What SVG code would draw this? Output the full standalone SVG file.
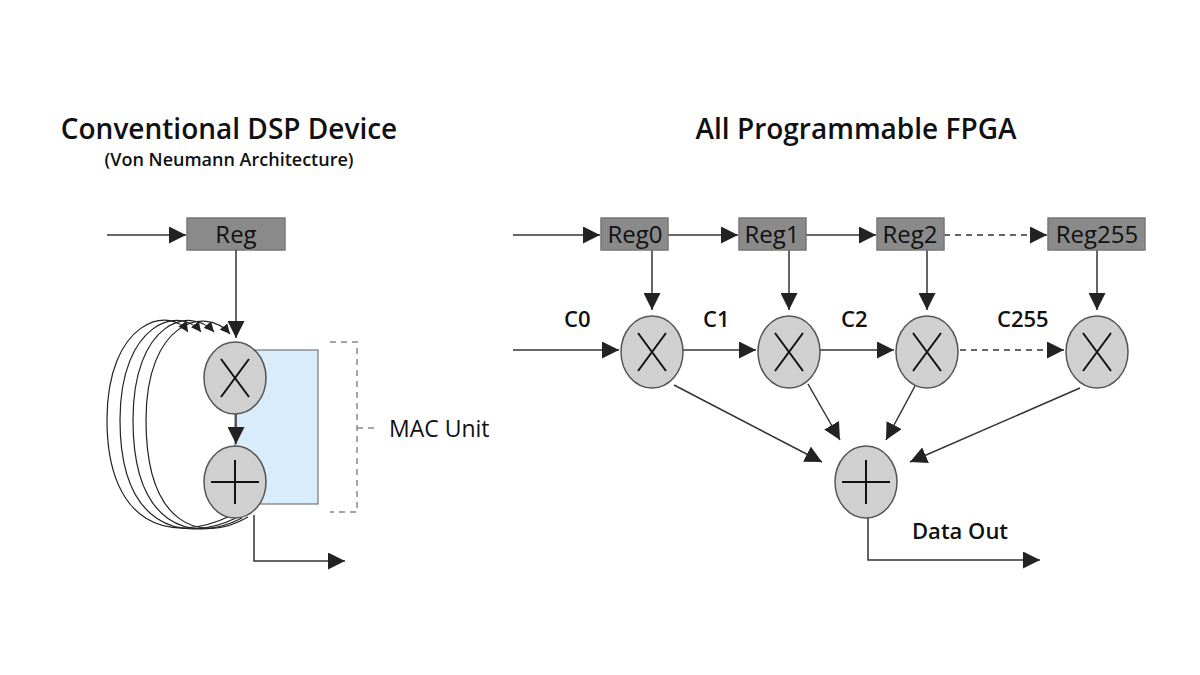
<svg xmlns="http://www.w3.org/2000/svg" width="1200" height="675" viewBox="0 0 1200 675">
<defs>
<marker id="ah" viewBox="0 0 10 10" refX="10" refY="5" markerWidth="17" markerHeight="17" markerUnits="userSpaceOnUse" orient="auto"><path d="M0,0 L10,5 L0,10 z" fill="#222"/></marker>
<marker id="as" viewBox="0 0 10 10" refX="10" refY="5" markerWidth="10" markerHeight="10" markerUnits="userSpaceOnUse" orient="auto"><path d="M0,0 L10,5 L0,10 z" fill="#222"/></marker>
<style>
text{font-family:"Open Sans","Noto Sans",sans-serif;fill:#111}
.reg rect{fill:#8a8a8a;stroke:#777;stroke-width:1.5}
.reg text{font-size:24px;text-anchor:middle;fill:#111}
.op ellipse{fill:#d0d0d0;stroke:#555;stroke-width:1.5}
.op path{stroke:#111;stroke-width:2;fill:none}
.c line,.c path{stroke:#333;stroke-width:1.5;fill:none;marker-end:url(#ah)}
.c .d{stroke-dasharray:6 5}
.loop path{stroke:#222;stroke-width:1.2;fill:none;marker-end:url(#as)}
.lbl{font-size:22px;font-weight:600}
</style>
</defs>
<rect width="1200" height="675" fill="#fff"/>
<text x="229" y="139" font-size="28" font-weight="600" text-anchor="middle">Conventional DSP Device</text>
<text x="229" y="166" font-size="18" font-weight="600" text-anchor="middle">(Von Neumann Architecture)</text>
<text x="856" y="139" font-size="28" font-weight="600" text-anchor="middle">All Programmable FPGA</text>

<rect id="mac-bg" x="235" y="350" width="83" height="154" fill="#d9ecfc" stroke="#777" stroke-width="1.2"/>
<path d="M330,342 H357 V512 H330 M357,428 H378" fill="none" stroke="#888" stroke-width="1.5" stroke-dasharray="6 5"/>
<text x="389" y="437" font-size="23">MAC Unit</text>

<g id="reg"><g class="reg"><rect x="187" y="218" width="98" height="32"/><text x="236" y="243">Reg</text></g></g>

<g id="loops" class="loop">
<path d="M230,516 C170,545 107,525 107,420 C107,320 170,305 188,332"/>
<path d="M236,518 C180,545 120,525 120,420 C120,322 180,305 201,332"/>
<path d="M242,518 C190,545 133,525 133,420 C133,322 190,305 214,332"/>
<path d="M248,517 C200,545 146,525 146,420 C146,322 205,305 230,334"/>
</g>

<g id="connectors" class="c">
<line x1="107" y1="235" x2="186" y2="235"/>
<line x1="236" y1="250" x2="236" y2="338"/>
<line x1="236" y1="414" x2="236" y2="444"/>
<path d="M254,515 V561 H345"/>
<line x1="513" y1="235" x2="600" y2="235"/>
<line x1="668" y1="235" x2="738" y2="235"/>
<line x1="806" y1="235" x2="876" y2="235"/>
<line class="d" x1="944" y1="235" x2="1047" y2="235"/>
<line x1="652" y1="250" x2="652" y2="310"/>
<line x1="789" y1="250" x2="789" y2="310"/>
<line x1="927" y1="250" x2="927" y2="310"/>
<line x1="1097" y1="250" x2="1097" y2="310"/>
<line x1="513" y1="350" x2="619" y2="350"/>
<line x1="683" y1="350" x2="756" y2="350"/>
<line x1="820" y1="350" x2="894" y2="350"/>
<line class="d" x1="960" y1="350" x2="1064" y2="350"/>
<line x1="674" y1="385" x2="822" y2="462"/>
<line x1="808" y1="384" x2="840" y2="440"/>
<line x1="915" y1="386" x2="886" y2="440"/>
<line x1="1080" y1="388" x2="910" y2="462"/>
<path d="M868,518 V560 H1040"/>
</g>

<g id="mul-l" class="op"><ellipse cx="235" cy="378" rx="31" ry="36"/><path d="M221,359 L249,397 M249,359 L221,397"/></g>
<g id="add-l" class="op"><ellipse cx="235" cy="482" rx="31" ry="36"/><path d="M211,482 H259 M235,460 V504"/></g>

<g id="reg0" class="reg"><rect x="601" y="218" width="67" height="32"/><text x="635" y="243">Reg0</text></g>
<g id="reg1" class="reg"><rect x="739" y="218" width="67" height="32"/><text x="772" y="243">Reg1</text></g>
<g id="reg2" class="reg"><rect x="877" y="218" width="67" height="32"/><text x="910" y="243">Reg2</text></g>
<g id="reg255" class="reg"><rect x="1048" y="218" width="97" height="32"/><text x="1097" y="243">Reg255</text></g>

<text class="lbl" x="564" y="327">C0</text>
<text class="lbl" x="703" y="327">C1</text>
<text class="lbl" x="841" y="327">C2</text>
<text class="lbl" x="997" y="327">C255</text>

<g id="mul0" class="op"><ellipse cx="652" cy="352" rx="31" ry="36"/><path d="M638,333 L666,371 M666,333 L638,371"/></g>
<g id="mul1" class="op"><ellipse cx="789" cy="352" rx="31" ry="36"/><path d="M775,333 L803,371 M803,333 L775,371"/></g>
<g id="mul2" class="op"><ellipse cx="927" cy="352" rx="31" ry="36"/><path d="M913,333 L941,371 M941,333 L913,371"/></g>
<g id="mul255" class="op"><ellipse cx="1097" cy="352" rx="31" ry="36"/><path d="M1083,333 L1111,371 M1111,333 L1083,371"/></g>
<g id="add" class="op"><ellipse cx="866" cy="482" rx="31" ry="36"/><path d="M842,482 H890 M866,460 V504"/></g>

<text class="lbl" x="912" y="539">Data Out</text>
</svg>
